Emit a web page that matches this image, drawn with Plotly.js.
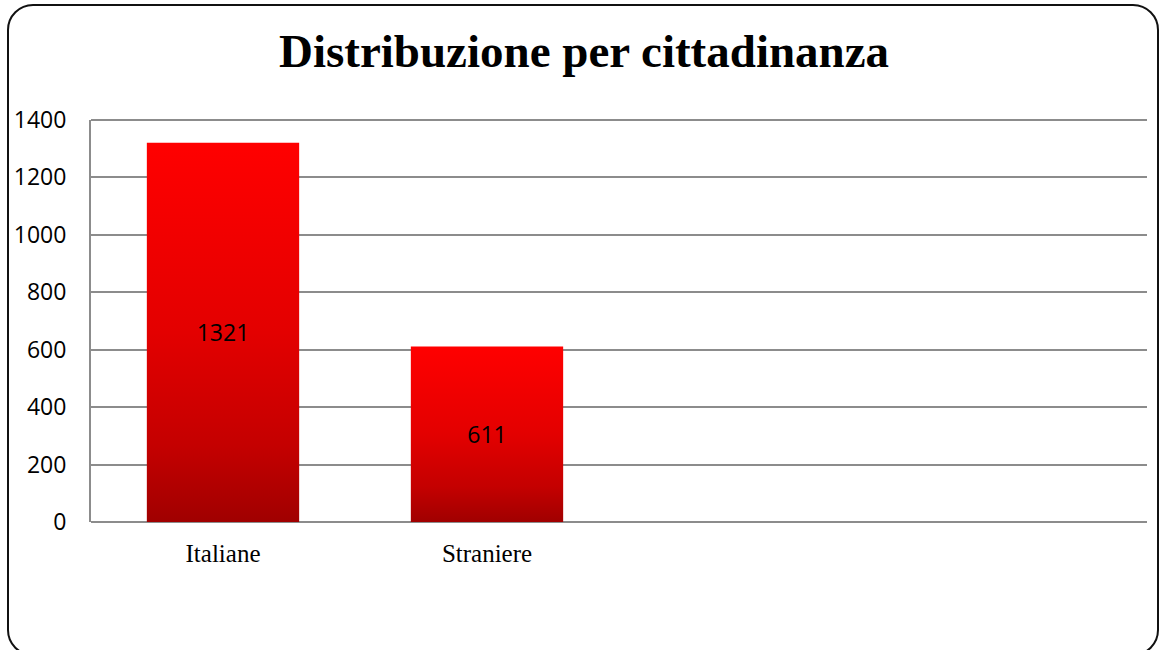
<!DOCTYPE html>
<html>
<head>
<meta charset="utf-8">
<script src="https://cdn.plot.ly/plotly-3.0.1.min.js"></script>
<style>
  html, body { margin: 0; padding: 0; background: #fff; }
  #wrap { position: relative; width: 1160px; height: 650px; overflow: hidden; }
  #chart { width: 1160px; height: 650px; }
  #frame {
    position: absolute; left: 7px; top: 4px; width: 1152px; height: 652px;
    box-sizing: border-box; border: 2px solid #111; border-radius: 26px;
    pointer-events: none;
  }
</style>
</head>
<body>
<div id="wrap">
  <div id="chart"></div>
  <div id="frame"></div>
</div>
<script>
const categories = ["Italiane", "Straniere"];
const values = [1321, 611];
const yTicks = [0, 200, 400, 600, 800, 1000, 1200, 1400];
const chartTitle = "Distribuzione per cittadinanza";

const trace = {
  type: "bar",
  x: categories,
  y: values,
  text: values.map(String),
  textposition: "inside",
  insidetextanchor: "middle",
  textangle: 0,
  constraintext: "none",
  textfont: { family: "Open Sans, sans-serif", size: 23, color: "#000" },
  marker: { color: "#e00000", line: { width: 0 } },
  hoverinfo: "x+y"
};

const layout = {
  width: 1160, height: 650,
  margin: { l: 91, r: 13, t: 120, b: 128 },
  paper_bgcolor: "#fff", plot_bgcolor: "#fff",
  showlegend: false,
  bargap: 0.423,
  title: {
    text: "<b>" + chartTitle + "</b>",
    font: { family: "Liberation Serif, serif", size: 47, color: "#000" },
    x: 0.5035, xanchor: "center", xref: "container",
    y: 0.922, yanchor: "middle", yref: "container"
  },
  xaxis: {
    type: "category",
    range: [-0.5, 3.5],
    showgrid: false, zeroline: false, showline: false,
    ticks: "",
    tickfont: { family: "Liberation Serif, serif", size: 25, color: "#000" },
    ticklabelstandoff: 14
  },
  yaxis: {
    range: [0, 1400],
    tickvals: yTicks,
    ticktext: yTicks.map(String),
    showgrid: true, gridcolor: "#8c8c8c", gridwidth: 2,
    zeroline: true, zerolinecolor: "#8c8c8c", zerolinewidth: 2,
    showline: true, linecolor: "#8c8c8c", linewidth: 2,
    ticks: "",
    tickfont: { family: "Open Sans, sans-serif", size: 23, color: "#000" },
    ticklabelstandoff: 18
  },
  shapes: [{
    type: "line", xref: "paper", yref: "paper",
    x0: 0, x1: 1, y0: 1, y1: 1,
    line: { color: "#8c8c8c", width: 2 }, layer: "below"
  }]
};

function applyGradient(gd) {
  const svg = gd.querySelector("svg.main-svg");
  if (!svg) return;
  if (!svg.querySelector("#barGrad")) {
    const ns = "http://www.w3.org/2000/svg";
    let defs = svg.querySelector("defs");
    if (!defs) { defs = document.createElementNS(ns, "defs"); svg.insertBefore(defs, svg.firstChild); }
    const g = document.createElementNS(ns, "linearGradient");
    g.setAttribute("id", "barGrad");
    g.setAttribute("x1", "0"); g.setAttribute("y1", "0");
    g.setAttribute("x2", "0"); g.setAttribute("y2", "1");
    [["0", "#ff0000"], ["0.5", "#e30000"], ["0.8", "#c40000"], ["1", "#a00000"]].forEach(s => {
      const st = document.createElementNS(ns, "stop");
      st.setAttribute("offset", s[0]);
      st.setAttribute("stop-color", s[1]);
      g.appendChild(st);
    });
    defs.appendChild(g);
  }
  gd.querySelectorAll(".trace.bars path").forEach(p => { p.style.fill = "url(#barGrad)"; });
}

const gd = document.getElementById("chart");
Plotly.newPlot(gd, [trace], layout, { displayModeBar: false, staticPlot: true }).then(() => {
  applyGradient(gd);
  gd.on && gd.on("plotly_afterplot", () => applyGradient(gd));
});
</script>
</body>
</html>
